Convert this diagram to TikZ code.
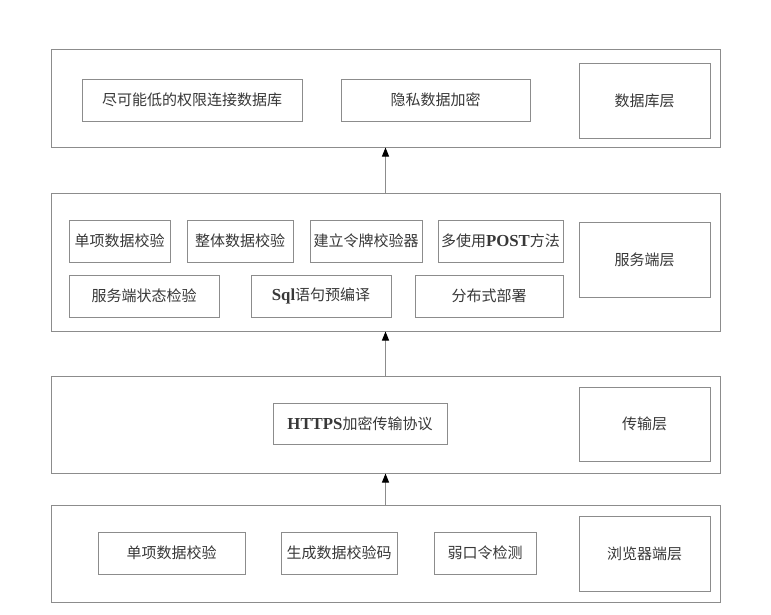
\documentclass[tikz,border=0pt]{standalone}
\usepackage{fontspec}
\setmainfont{Liberation Serif}
\newfontfamily\cjk{Noto Sans CJK SC}
\newfontfamily\latb[Scale=1.12]{Liberation Serif}
\usetikzlibrary{arrows.meta}
\tikzset{
  bx/.style={draw=black!45, line width=1pt, fill=white, inner sep=0pt, text=black!78,
    font=\cjk\fontsize{15}{17}\selectfont},
  arr/.style={draw=black!45, line width=1pt, -{Triangle[length=9pt,width=7pt,color=black]}}
}
\newcommand\bx[6]{\node[bx, minimum width={(#4-#2)*1pt}, minimum height={(#5-#3)*1pt}] (#1) at ({(#2+#4)/2},{(#3+#5)/2}) {#6};}
\newcommand\lat[1]{{\latb\bfseries #1}}
\begin{document}
\begin{tikzpicture}[x=1pt,y=-1pt]
\useasboundingbox[fill=white] (0,0) rectangle (771,614);
% database layer
\bx{db}{51}{49}{720}{147}{}
\bx{db1}{82}{79}{302}{121}{尽可能低的权限连接数据库}
\bx{db2}{341}{79}{530}{121}{隐私数据加密}
\bx{dbl}{579}{63}{710}{138}{数据库层}
% service layer
\bx{sv}{51}{193}{720}{331}{}
\bx{sv1}{69}{220}{170}{262}{单项数据校验}
\bx{sv2}{187}{220}{293}{262}{整体数据校验}
\bx{sv3}{310}{220}{422}{262}{建立令牌校验器}
\bx{sv4}{438}{220}{563}{262}{多使用\lat{POST}方法}
\bx{sv5}{69}{275}{219}{317}{服务端状态检验}
\bx{sv6}{251}{275}{391}{317}{\lat{Sql}语句预编译}
\bx{sv7}{415}{275}{563}{317}{分布式部署}
\bx{svl}{579}{222}{710}{297}{服务端层}
% transport layer
\bx{tr}{51}{376}{720}{473}{}
\bx{tr1}{273}{403}{447}{444}{\lat{HTTPS}加密传输协议}
\bx{trl}{579}{387}{710}{461}{传输层}
% browser layer
\bx{br}{51}{505}{720}{602}{}
\bx{br1}{98}{532}{245}{574}{单项数据校验}
\bx{br2}{281}{532}{397}{574}{生成数据校验码}
\bx{br3}{434}{532}{536}{574}{弱口令检测}
\bx{brl}{579}{516}{710}{591}{浏览器端层}
% arrows
\draw[arr] (sv.north) -- (db.south);
\draw[arr] (tr.north) -- (sv.south);
\draw[arr] (br.north) -- (tr.south);
\end{tikzpicture}
\end{document}
